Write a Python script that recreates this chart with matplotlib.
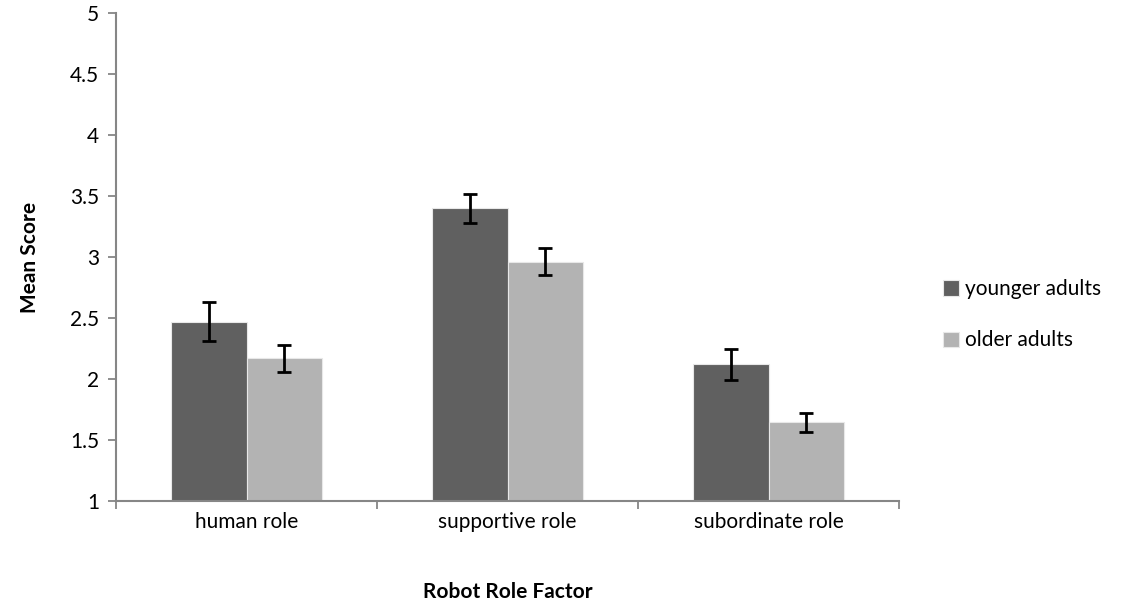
import matplotlib.pyplot as plt
import numpy as np

# data
roles = ['human role', 'supportive role', 'subordinate role']
series = ['younger adults', 'older adults']
younger = [2.47, 3.40, 2.12]
younger_err = [0.16, 0.12, 0.13]
older = [2.17, 2.96, 1.645]
older_err = [0.11, 0.11, 0.08]
y_ticks = [1, 1.5, 2, 2.5, 3, 3.5, 4, 4.5, 5]
y_tick_labels = ['1', '1.5', '2', '2.5', '3', '3.5', '4', '4.5', '5']

plt.rcParams['font.family'] = ['Lato', 'DejaVu Sans']
fs = 15

fig = plt.figure(figsize=(11.34, 6.09), dpi=100)
ax = fig.add_axes([0.1023, 0.1773, 0.6905, 0.8014])

x = np.arange(len(roles))
w = 0.2875
axis_col = '#868686'

ax.bar(x - w / 2, younger, w, color='#606060', edgecolor='#e8e8e8',
       linewidth=0.8, label=series[0], zorder=2)
ax.bar(x + w / 2, older, w, color='#b3b3b3', edgecolor='#e8e8e8',
       linewidth=0.8, label=series[1], zorder=2)
ax.errorbar(x - w / 2, younger, yerr=younger_err, fmt='none', ecolor='black',
            elinewidth=2, capsize=4.7, capthick=2, zorder=3)
ax.errorbar(x + w / 2, older, yerr=older_err, fmt='none', ecolor='black',
            elinewidth=2, capsize=4.7, capthick=2, zorder=3)

ax.set_xlim(-0.5, len(roles) - 0.5)
ax.set_ylim(1, 5)
ax.set_yticks(y_ticks)
ax.set_yticklabels(y_tick_labels)

# x ticks at the category boundaries, labels centred under the groups
ax.set_xticks(np.arange(-0.5, len(roles), 1.0))
ax.set_xticklabels([])
ax.set_xticks(x, minor=True)
ax.set_xticklabels(roles, minor=True)
ax.tick_params(axis='x', which='minor', length=0, pad=8, labelsize=fs)
ax.tick_params(axis='x', which='major', length=6, width=1.3, color=axis_col, direction='out')
ax.tick_params(axis='y', length=6, width=1.3, color=axis_col, pad=6, labelsize=fs)

for s in ['top', 'right']:
    ax.spines[s].set_visible(False)
for s in ['left', 'bottom']:
    ax.spines[s].set_color(axis_col)
    ax.spines[s].set_linewidth(1.5)

ax.set_ylabel('Mean Score', fontweight='bold', fontsize=fs, labelpad=22)
ax.set_xlabel('Robot Role Factor', fontweight='bold', fontsize=fs, labelpad=36)

fig.legend(loc='center left', bbox_to_anchor=(0.815, 0.483), frameon=False,
           fontsize=fs, handlelength=0.75, handleheight=0.75, handletextpad=0.3,
           labelspacing=1.5)

plt.savefig('out.png', dpi=100)
